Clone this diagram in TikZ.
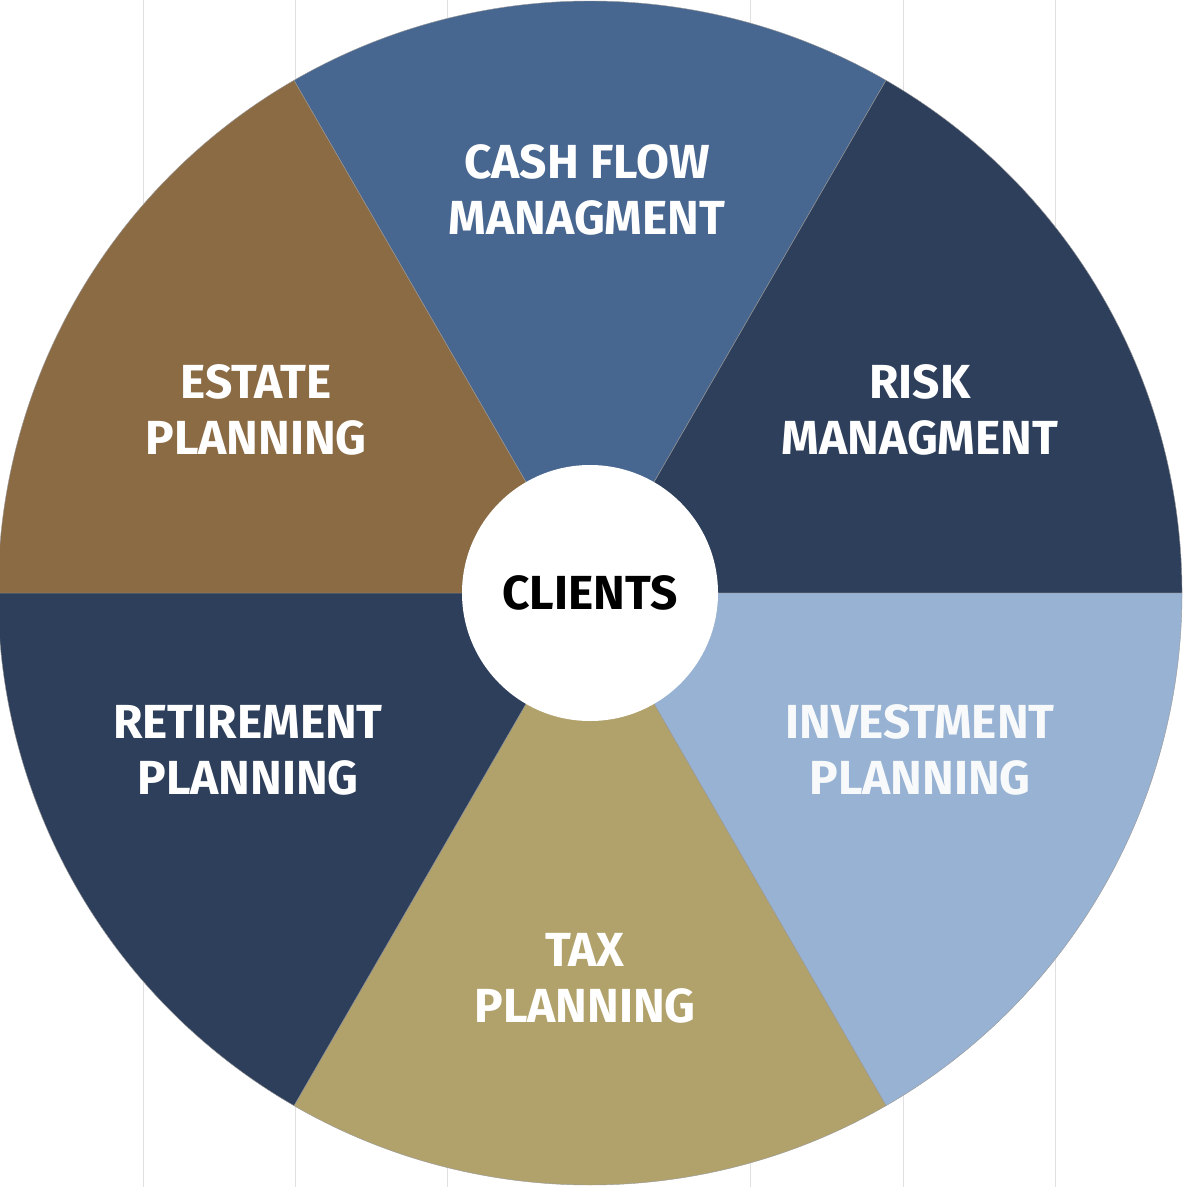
\documentclass[tikz,border=0pt]{standalone}
\usepackage{fontspec}
\setmainfont{Fira Sans}
\usetikzlibrary{positioning}
\definecolor{cashblue}{HTML}{476690}
\definecolor{navy}{HTML}{2E3F5C}
\definecolor{skyblue}{HTML}{97B2D2}
\definecolor{khaki}{HTML}{B1A26C}
\definecolor{bronze}{HTML}{8B6B44}
\tikzset{
    x=0.025cm,
    y=-0.025cm,
    sector/.style = {
        draw=black!40,
        line width=0.3pt
    },
    label/.style = {
        text=white,
        font=\fontsize{34}{40}\selectfont\bfseries,
        align=center
    },
    hub/.style = {
        draw=none,
        fill=white,
        shape=circle,
        minimum size=256*0.025cm,
        font=\fontsize{34}{40}\selectfont\bfseries
    }
}
\begin{document}
\begin{tikzpicture}
    \useasboundingbox (0,0) rectangle (1186,1187);
    \fill[white] (0,0) rectangle (1186,1187);
    \foreach \gx in {143,295,447,750,903,1055}
        \draw[black!12, line width=0.4pt] (\gx,0) -- (\gx,1187);

    \coordinate (mid) at (590,593);
    \def\rad{592*0.025cm}
    \foreach \start/\col in {60/cashblue, 0/navy, -60/skyblue, -120/khaki, -180/navy, 120/bronze}
        \filldraw[sector, fill=\col] (mid) -- ++(\start:\rad) arc[start angle=\start, delta angle=60, radius=\rad] -- cycle;

    \node[hub] (clients) at (mid) {CLIENTS};

    \node[label] (cashflow) at (587,190) {CASH FLOW\\MANAGMENT};
    \node[label] (risk) at (920,410) {RISK\\MANAGMENT};
    \node[label, text=white!92!skyblue] (invest) at (920,750) {INVESTMENT\\PLANNING};
    \node[label] (tax) at (585,978) {TAX\\PLANNING};
    \node[label] (retire) at (248,750) {RETIREMENT\\PLANNING};
    \node[label] (estate) at (256,410) {ESTATE\\PLANNING};
\end{tikzpicture}
\end{document}
